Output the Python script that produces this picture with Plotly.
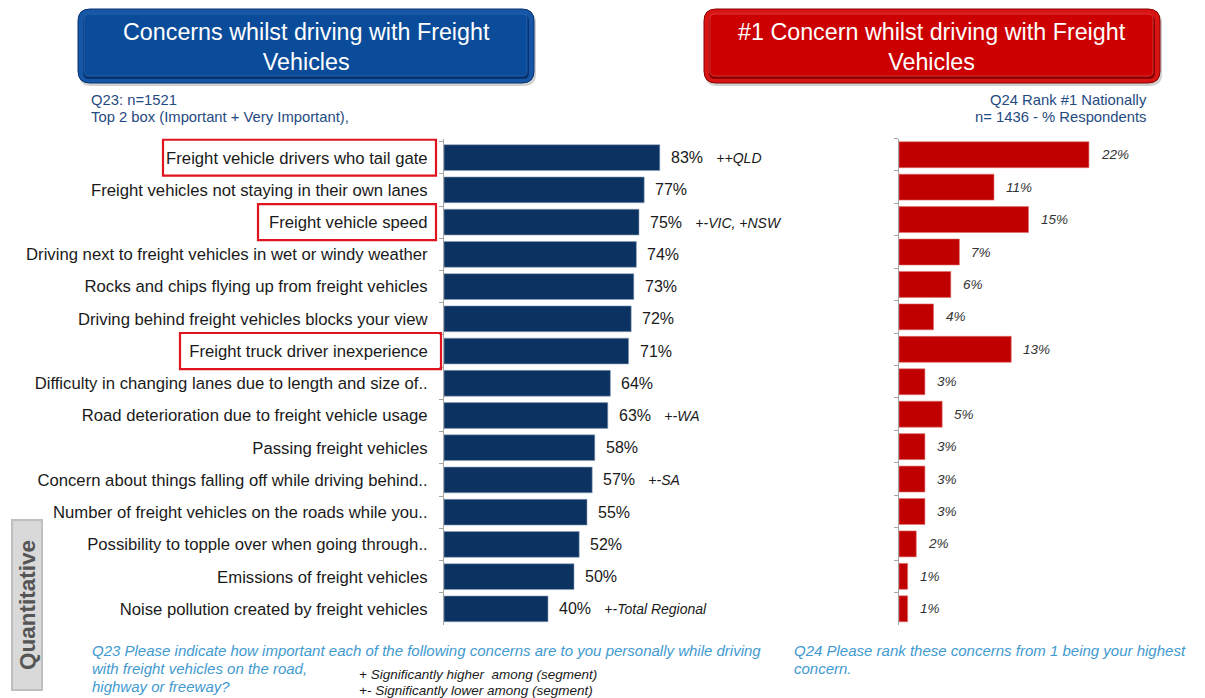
import plotly.graph_objects as go

# ---- data -------------------------------------------------------------
concerns = [
    "Freight vehicle drivers who tail gate",
    "Freight vehicles not staying in their own lanes",
    "Freight vehicle speed",
    "Driving next to freight vehicles in wet or windy weather",
    "Rocks and chips flying up from freight vehicles",
    "Driving behind freight vehicles blocks your view",
    "Freight truck driver inexperience",
    "Difficulty in changing lanes due to length and size of..",
    "Road deterioration due to freight vehicle usage",
    "Passing freight vehicles",
    "Concern about things falling off while driving behind..",
    "Number of freight vehicles on the roads while you..",
    "Possibility to topple over when going through..",
    "Emissions of freight vehicles",
    "Noise pollution created by freight vehicles",
]
top2_pct = [83, 77, 75, 74, 73, 72, 71, 64, 63, 58, 57, 55, 52, 50, 40]
rank1_pct = [22, 11, 15, 7, 6, 4, 13, 3, 5, 3, 3, 3, 2, 1, 1]
segment_notes = ["++QLD", "", "+-VIC, +NSW", "", "", "", "", "", "+-WA", "",
                 "+-SA", "", "", "", "+-Total Regional"]
highlighted = ["Freight vehicle drivers who tail gate",
               "Freight vehicle speed",
               "Freight truck driver inexperience"]

q23_note = ["Q23 Please indicate how important each of the following concerns "
            "are to you personally while driving",
            "with freight vehicles on the road,",
            "highway or freeway?"]
q24_note = ["Q24 Please rank these concerns from 1 being your highest",
            "concern."]
sig_legend = ["+ Significantly higher  among (segment)",
              "+- Significantly lower among (segment)"]

# ---- page geometry helpers (pixel -> paper) ---------------------------
W, H = 1205, 698


def px(x):
    return x / W


def py(y):
    return 1 - y / H


FONT = "Arial, Liberation Sans, sans-serif"
NAVY = "#0B3261"
RED = "#C00000"
AXIS_GREY = "#A6A6A6"

fig = go.Figure()

fig.add_trace(go.Bar(
    x=top2_pct, y=concerns, orientation="h", width=0.8,
    marker=dict(color=NAVY, line=dict(color="#8EA3BC", width=0.6)),
    xaxis="x", yaxis="y", hoverinfo="skip", showlegend=False,
))
fig.add_trace(go.Bar(
    x=rank1_pct, y=concerns, orientation="h", width=0.8,
    marker=dict(color=RED, line=dict(color="#E07070", width=0.6)),
    xaxis="x2", yaxis="y2", hoverinfo="skip", showlegend=False,
))

y_dom = [py(625), py(138.5)]
yaxis_common = dict(
    type="category", categoryorder="array", categoryarray=concerns,
    autorange="reversed", showline=True, linecolor=AXIS_GREY, linewidth=1,
    ticks="outside", ticklen=4, tickcolor=AXIS_GREY, tickson="boundaries",
    showgrid=False, zeroline=False, domain=y_dom, fixedrange=True,
)

fig.update_layout(
    width=W, height=H,
    margin=dict(l=0, r=0, t=0, b=0),
    paper_bgcolor="white", plot_bgcolor="rgba(0,0,0,0)",
    font=dict(family=FONT, color="#1A1A1A"),
    bargap=0.2,
    xaxis=dict(domain=[px(444), px(704)], range=[0, 100], visible=False,
               fixedrange=True),
    xaxis2=dict(domain=[px(899), px(1158)], range=[0, 30], visible=False,
                fixedrange=True),
    yaxis=dict(anchor="x",
               tickfont=dict(size=16.7, color="#1A1A1A", family=FONT),
               ticklabelstandoff=12, **yaxis_common),
    yaxis2=dict(anchor="x2", showticklabels=False, **yaxis_common),
)

annotations = []
shapes = []

# value labels for left chart, with segment notes after them
for cat, v, note in zip(concerns, top2_pct, segment_notes):
    txt = f"{v}%"
    if note:
        txt += ("&nbsp;&nbsp;&nbsp;<i><span style='font-size:14px'>"
                f"{note}</span></i>")
    annotations.append(dict(
        x=v, y=cat, xref="x", yref="y", text=txt, showarrow=False,
        xanchor="left", yanchor="middle", xshift=9,
        font=dict(size=16, color="#1A1A1A", family=FONT),
    ))

# value labels for right chart
for cat, v in zip(concerns, rank1_pct):
    annotations.append(dict(
        x=v, y=cat, xref="x2", yref="y2", text=f"<i>{v}%</i>",
        showarrow=False, xanchor="left", yanchor="middle", xshift=10,
        font=dict(size=13.5, color="#333333", family=FONT),
    ))

# red outline around the highlighted concern labels
label_box_left = {
    "Freight vehicle drivers who tail gate": 163,
    "Freight vehicle speed": 258,
    "Freight truck driver inexperience": 180,
}
for cat in highlighted:
    i = concerns.index(cat)
    shapes.append(dict(
        type="rect", xref="paper", yref="y",
        x0=px(label_box_left[cat]), x1=px(436 if i < 5 else 441),
        y0=i - 0.56, y1=i + 0.56,
        line=dict(color="#E0141E", width=2.2), fillcolor="rgba(0,0,0,0)",
    ))


def rounded_rect(x0, y0, x1, y1, r):
    """SVG path (paper coords) for a rounded rectangle given in pixels."""
    pts = [
        f"M {px(x0 + r)},{py(y0)}",
        f"L {px(x1 - r)},{py(y0)}",
        f"Q {px(x1)},{py(y0)} {px(x1)},{py(y0 + r)}",
        f"L {px(x1)},{py(y1 - r)}",
        f"Q {px(x1)},{py(y1)} {px(x1 - r)},{py(y1)}",
        f"L {px(x0 + r)},{py(y1)}",
        f"Q {px(x0)},{py(y1)} {px(x0)},{py(y1 - r)}",
        f"L {px(x0)},{py(y0 + r)}",
        f"Q {px(x0)},{py(y0)} {px(x0 + r)},{py(y0)}",
        "Z",
    ]
    return " ".join(pts)


def header(x0, x1, title, rim, dark, face, light):
    y0, y1 = 9, 83
    # soft shadow
    shapes.append(dict(type="path", xref="paper", yref="paper",
                       path=rounded_rect(x0 + 1, y0 + 2, x1 + 2, y1 + 3, 12),
                       fillcolor="rgba(0,0,0,0.18)", line=dict(width=0),
                       layer="above"))
    # outer rim
    shapes.append(dict(type="path", xref="paper", yref="paper",
                       path=rounded_rect(x0, y0, x1, y1, 12),
                       fillcolor=rim, line=dict(color=dark, width=1),
                       layer="above"))
    # darker bottom bevel
    shapes.append(dict(type="path", xref="paper", yref="paper",
                       path=rounded_rect(x0 + 5, y0 + 6, x1 - 5, y1 - 4, 6),
                       fillcolor=dark, line=dict(width=0), layer="above"))
    # face
    shapes.append(dict(type="path", xref="paper", yref="paper",
                       path=rounded_rect(x0 + 6, y0 + 5, x1 - 7, y1 - 7, 5),
                       fillcolor=face, line=dict(color=light, width=0.8),
                       layer="above"))
    annotations.append(dict(
        x=px((x0 + x1) / 2), y=py((y0 + y1) / 2 + 1), xref="paper",
        yref="paper", text=title, showarrow=False, xanchor="center",
        yanchor="middle", align="center",
        font=dict(size=23.3, color="white", family=FONT),
    ))


header(78, 534, "Concerns whilst driving with Freight<br>Vehicles",
       "#1756A6", "#06336E", "#0B4C9A", "#2A66B3")
header(704, 1160, "#1 Concern whilst driving with Freight<br>Vehicles",
       "#D81414", "#8A0000", "#CC0000", "#E04040")

SUB_BLUE = "#1F4A82"
annotations += [
    dict(x=px(89), y=py(100), xref="paper", yref="paper",
         text="Q23: n=1521", showarrow=False, xanchor="left",
         yanchor="middle", font=dict(size=14.8, color=SUB_BLUE, family=FONT)),
    dict(x=px(89), y=py(117), xref="paper", yref="paper",
         text="Top 2 box (Important + Very Important),", showarrow=False,
         xanchor="left", yanchor="middle",
         font=dict(size=14.8, color=SUB_BLUE, family=FONT)),
    dict(x=px(1149), y=py(100), xref="paper", yref="paper",
         text="Q24 Rank #1 Nationally", showarrow=False, xanchor="right",
         yanchor="middle", font=dict(size=14.8, color=SUB_BLUE, family=FONT)),
    dict(x=px(1149), y=py(117), xref="paper", yref="paper",
         text="n= 1436 - % Respondents", showarrow=False, xanchor="right",
         yanchor="middle", font=dict(size=14.8, color=SUB_BLUE, family=FONT)),
]

NOTE_BLUE = "#3F9AD0"


def text_lines(lines, x, y_first, step, size, color):
    for k, line in enumerate(lines):
        annotations.append(dict(
            x=px(x), y=py(y_first + k * step), xref="paper", yref="paper",
            text=f"<i>{line}</i>", showarrow=False, xanchor="left",
            yanchor="middle", font=dict(size=size, color=color, family=FONT)))


text_lines(q23_note, 90, 650, 18, 15, NOTE_BLUE)
text_lines(q24_note, 792, 650, 18, 15, NOTE_BLUE)
text_lines(sig_legend, 357, 674, 16, 13.5, "#1A1A1A")

# side tab
shapes.append(dict(type="rect", xref="paper", yref="paper",
                   x0=px(12), x1=px(42), y0=py(690), y1=py(520),
                   fillcolor="#D9D9D9", line=dict(color="#BFBFBF", width=2)))
annotations.append(dict(
    x=px(27), y=py(605), xref="paper", yref="paper",
    text="<b>Quantitative</b>", showarrow=False, textangle=-90,
    xanchor="center", yanchor="middle",
    font=dict(size=22.5, color="#555555", family=FONT)))

fig.update_layout(annotations=annotations, shapes=shapes)

fig.write_html("out.html")
